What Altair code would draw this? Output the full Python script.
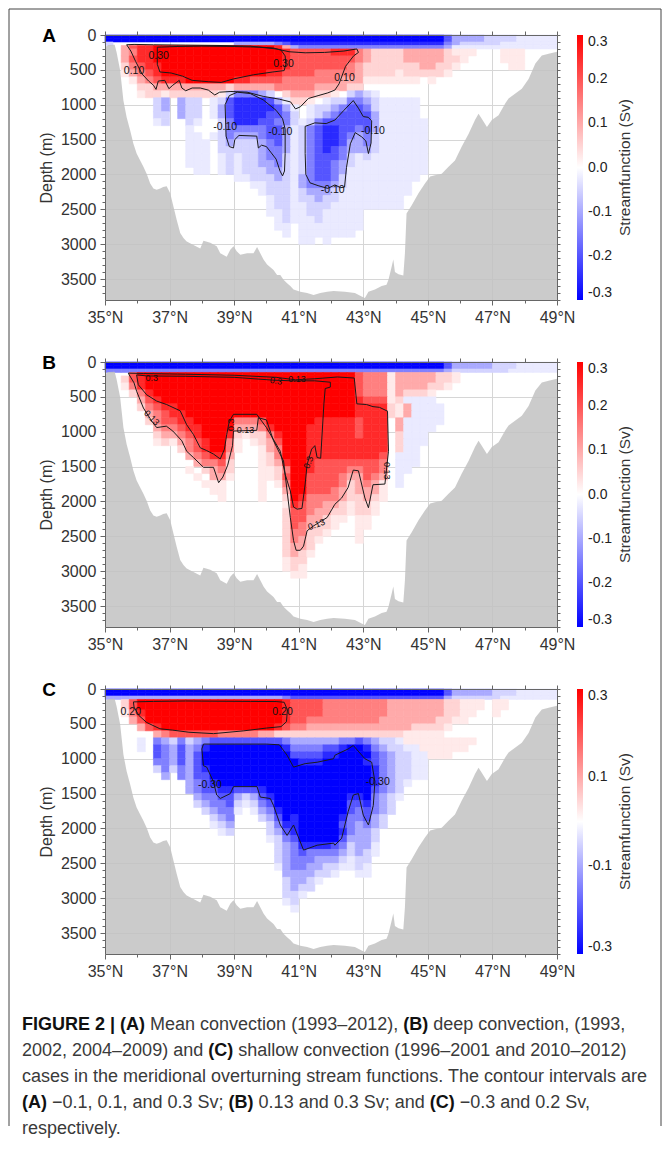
import altair as alt
import pandas as pd

FONT = "Liberation Sans"
W, H = 452, 265

LAT_EDGES = [35.0, 35.25, 35.5, 35.75, 36.0, 36.25, 36.5, 36.75, 37.0, 37.25, 37.5, 37.75,
             38.0, 38.25, 38.5, 38.75, 39.0, 39.25, 39.5, 39.75, 40.0, 40.25, 40.5, 40.75,
             41.0, 41.25, 41.5, 41.75, 42.0, 42.25, 42.5, 42.75, 43.0, 43.25, 43.5, 43.75,
             44.0, 44.25, 44.5, 44.75, 45.0, 45.25, 45.5, 45.75, 46.0, 46.25, 46.5, 46.75,
             47.0, 47.25, 47.5, 47.75, 48.0, 48.25, 48.5, 48.75, 49.0]
DEPTH_EDGES = [0, 50, 100, 150, 200, 300, 400, 500, 600, 700, 800, 900, 1000, 1100, 1200,
               1300, 1400, 1500, 1600, 1700, 1800, 1900, 2000, 2100, 2200, 2300, 2400, 2500,
               2600, 2700, 2800, 2900, 3000, 3100, 3200, 3300, 3400, 3500, 3600, 3700, 3800]

# one character per 0.25 deg x depth-row cell (Sv)
LEVELS = {'.': 0.0, '+': 0.025, 'a': 0.05, 'b': 0.1, 'c': 0.15, 'd': 0.2, 'e': 0.25, 'f': 0.3,
          '-': -0.025, 'A': -0.05, 'B': -0.1, 'C': -0.15, 'D': -0.2, 'E': -0.25, 'F': -0.3}
EMPTY = "........ ........ ........ ........ ........ ........ ........"

PSI_A = [
    "FFFFFFFF FFFFFFFF FFFFFFFF FFFFFFFF FFFFFFFF FFDBBBBA AAA-----",
    "FFFFFFFF FFFFFFFF FFFFFFFF FFFFFFFF FFFFFFFF FFDBBBBA AAA-----",
    "A....... ........ BBBBBCDE EEEEEEEE EEEEEEEE EECBAAAA A-------",
    "..bdeeff ffffffff fffffebB CCCCCCCC CCCCCCCC CCB----- --------",
    "..bceeff ffffffff ffffffed ddddeeec baaaabbb bba+++.. .+++....",
    "..bdeeff ffffffff ffffffed dddddddc baaaabbb bbaa+... .+++....",
    "..acdeef ffffffff ffffffed ddddddcb aaaaaaab baa+.... ..++....",
    "..+bcdef ffffffff ffffeedd ddcccccb aaaa+aaa aa+..... ........",
    "...+bcde eeffffff eeddddcc cccccbbb +++++++. +....... ........",
    "....aabb bbbbbbba bbbbbccc ccbbbbaa ........ ........ ........",
    "....+aa+ aaaaaa+A CCCBA.ab bbaa+.AB A-...... ........ ........",
    "......AB .BAA.-AD EEEEDB-a a+.-AACC BA-----. ........ ........",
    "......AB .BAA.-BD EEEEEDB- .-AABCDD CA-----. ........ ........",
    "......AA .BAA.-BD EEEEDDCA .-ABCDDD DB-----. ........ ........",
    "......-A ..A-..AC EEEDDCCA -ACDDDDD DB------ ........ ........",
    "........ ..-...AC CCCCDDB- ACDEEDDC DB------ ........ ........",
    "........ ..--.-AC BBBCDDB- ACDEEDCB CA------ ........ ........",
    "........ ..---.AB AAABCDB- ACDEEDBB CA------ ........ ........",
    "........ ..---.AA AAABCCB- ACDEDCBB BA------ ........ ........",
    "........ ..---.-A -AABCCA- ACDDDCA- A------- ........ ........",
    "........ ..---.-A -AABBCA- ACDDCBA- -------- ........ ........",
    "........ ...--.-A -AAABBA- ACDDCB-- -------- ........ ........",
    "........ ........ --AAABA- BCDDCA-- -------. ........ ........",
    "........ ........ ..--AAA- BCCCBA-- ------.. ........ ........",
    "........ ........ ...-AAA- ABBBA--- ------.. ........ ........",
    "........ ........ ....-AA- AABAA--- -----... ........ ........",
    "........ ........ ....-AA- -AAA---- -----... ........ ........",
    "........ ........ ....--A- -AA----- ........ ........ ........",
    "........ ........ .....-A- --A----- ........ ........ ........",
    "........ ........ .....--. -------- ........ ........ ........",
    "........ ........ ......-. -------. ........ ........ ........",
    "........ ........ ........ --.-.... ........ ........ ........",
] + [EMPTY] * 8

PSI_B = [
    "FFFFFFFF FFFFFFFF FFFFFFFF FFFFFFFF FFFFFFFF FFDBBBBB AAA-----",
    "FFFFFFFF FFFFFFFF FFFFFFFF FFFFFFFF FFFFFFFF FFDBBBBB AAA-----",
    "CCCCCCCC CCCCCCCC CCCCCCCC CCCCCCCC CCCCCCCC CCBAAAAA AA------",
    "...dffff ffffffff ffffffff fffffffd ccc+bbbb baa+.... ........",
    "..adefff ffffffff ffffffff fffffffd ccc+bbbb baa+.... ........",
    "..+cefff ffffffff ffffffff fffffffd ccc+bbbb aa+..... ........",
    "...aceff ffffffff ffffffff fffffffd ccc+baaa +....... ........",
    "....bdef ffffffff ffffffff fffffffe ddd+a--- -....... ........",
    "....acde efffffff ffffffff fffffffe eeea+b-- --...... ........",
    ".....bcd eeffffff ffffffff fffffffe eeea+b-- --...... ........",
    ".....acd deefffff cccdffff ffeeeeed eee.b--- --...... ........",
    "......bc cdeeffff bbbcefff feeeeeed eee.b--- -....... ........",
    "......ab bcdefffe a+aaceff feeeeeed eee.a--- ........ ........",
    "......+a +bcdeffc +.+abdff feeeeeee eee.a--- ........ ........",
    "........ .acdeffc +..+bcff feeeeeee eee.a--. ........ ........",
    "........ ..bcdeeb ...+acff feeeeeee eed.---. ........ ........",
    "........ ...bccda ...+abef fedddddd ddc.---. ........ ........",
    "........ ..+.abca ...++acf feddddcc ddc.--.. ........ ........",
    "........ ...+.bb+ ...++adf fddddcbb dcb.-... ........ ........",
    "........ ....+++. ...+.+cf fddddcab cb+.-... ........ ........",
    "........ .....++. ...+..bf fdddcbab bb+..... ........ ........",
    "........ ......+. ...+..af eccccbaa ba+..... ........ ........",
    "........ ........ ......+e dccbba+a a+...... ........ ........",
    "........ ........ ......ad dcbbaa+a a+...... ........ ........",
    "........ ........ ......ad dbba++.+ +....... ........ ........",
    "........ ........ ......ad cbaa+..+ +....... ........ ........",
    "........ ........ ......ac caa+...+ ........ ........ ........",
    "........ ........ ......ac ba+....+ ........ ........ ........",
    "........ ........ ......ab ba...... ........ ........ ........",
    "........ ........ ......ab a+...... ........ ........ ........",
    "........ ........ ......+a a....... ........ ........ ........",
    "........ ........ ......+a +....... ........ ........ ........",
    "........ ........ .......+ +....... ........ ........ ........",
] + [EMPTY] * 7

PSI_C = [
    "FFFFFFFF FFFFFFFF FFFFFFFF FFFFFFFF FFFFFFFF FFDBBBBB AAA-----",
    "FFFFFFFF FFFFFFFF FFFFFFFF FFFFFFFF FFFFFFFF FFDBBBBB AAA-----",
    "BBBBBBBB BBBBBBBB BBBBBBCD DDDDDDDD DDDDDDDD DDBAAAAA A-------",
    "..adffff ffffffff ffffffed dddccccc cccbbbbb bbaa+++. ++......",
    "..adffff ffffffff ffffffed dddccccc cccbbbbb bbaa+++. ++......",
    "..+cefff ffffffff ffffffed dddccccc cccbbbbb bbaa++.. +.......",
    "...bdfff ffffffff ffffffed dccccccc ccbbbbbb baa++... ........",
    "....bdef ffffffff fffffedc cbbbbbbb bbbbbbaa aa+..... ........",
    "......bc ddddddcc cccbbaaa aaaaaaaa aaaaa+++ ++...... ........",
    "....-.CB ACABCDDD DDDDDDCB BBBBBCCD CBAA-+++ ++++++.. ........",
    "....-.DC BDBCEFFF FFFFFFEC CCCDDEFF ECBAA--+ +++++... ........",
    "......DC BDBDFFFF FFFFFFFD DDDEEFFF FDCBAA-- +++..... ........",
    "......CC BDBDFFFF FFFFFFFF EEEFFFFF EDCBAA-- ........ ........",
    "......AC ACBDEFFF FFFFFFFF FFFFFFFF FECBAA-- ........ ........",
    ".......B .CBDDFFF FFFFFFFF FFFFFFFF FECBAA-- ........ ........",
    "........ ..BCDEFF FFFFFFFF FFFFFFFF FECBA-.. ........ ........",
    "........ ..BCDDEE DDDEFFFF FFFFFFFF FDCBA... ........ ........",
    "........ ...BCCDD BABDEFFF FFFFFFEE FCBA-... ........ ........",
    "........ ...ABCCD A-ACDFFF FFFFFFDD ECBA.... ........ ........",
    "........ ....ABCC -.-BCEFF FFFFFFDC DCBA.... ........ ........",
    "........ .....ABC ...ABDFE FFFFFECC DBA..... ........ ........",
    "........ .....-AB ....ACEE FFFFFDCB CBA..... ........ ........",
    "........ ......-A ....ABDE FFFFFECB BA...... ........ ........",
    "........ ........ ....-ACD FFFFFDBB BA...... ........ ........",
    "........ ........ .....ABC EEEEDCAB B-...... ........ ........",
    "........ ........ .....ABC DCCCCBAB A-...... ........ ........",
    "........ ........ .....ABC CCBBBA-A A....... ........ ........",
    "........ ........ .....-BC CBBAA--A -....... ........ ........",
    "........ ........ ......BB BBAA-..- -....... ........ ........",
    "........ ........ ......AB BA-..... ........ ........ ........",
    "........ ........ ......AB AA...... ........ ........ ........",
    "........ ........ ......AA -....... ........ ........ ........",
    "........ ........ ......-A ........ ........ ........ ........",
    "........ ........ .......- ........ ........ ........ ........",
] + [EMPTY] * 6

BATHY_LAT = [35.0, 35.1, 35.3, 35.36, 35.47, 35.57, 35.67, 35.78, 35.88, 35.98, 36.09, 36.19, 36.29,
             36.4, 36.5, 36.6, 36.71, 36.8, 36.91, 37.02, 37.12, 37.22, 37.33, 37.43, 37.53, 37.74,
             37.95, 38.05, 38.26, 38.46, 38.57, 38.77, 38.88, 38.98, 39.08, 39.19, 39.4, 39.6, 39.71,
             39.81, 39.91, 40.02, 40.22, 40.33, 40.43, 40.53, 40.64, 40.74, 40.84, 41.05, 41.26, 41.46,
             41.67, 41.88, 42.08, 42.43, 42.74, 42.95, 43.05, 43.16, 43.36, 43.57, 43.72, 43.78, 43.88,
             43.93, 43.98, 44.09, 44.24, 44.29, 44.34, 44.5, 44.71, 44.91, 45.07, 45.22, 45.43, 45.64,
             45.84, 46.05, 46.26, 46.46, 46.57, 46.67, 46.83, 46.98, 47.19, 47.4, 47.5, 47.71, 47.91,
             48.12, 48.33, 48.53, 48.74, 49.0]
BATHY_DEPTH = [175, 145, 140, 250, 510, 940, 1180, 1370, 1560, 1700, 1800, 1890, 1990, 2130, 2200,
               2220, 2200, 2180, 2170, 2270, 2460, 2650, 2840, 2910, 2960, 3010, 3060, 2950, 2980,
               3030, 3130, 3180, 3080, 3030, 3100, 3150, 3130, 3130, 3040, 3130, 3220, 3290, 3370,
               3440, 3440, 3510, 3560, 3600, 3650, 3680, 3700, 3730, 3700, 3680, 3670, 3680, 3700,
               3750, 3770, 3680, 3650, 3600, 3580, 3510, 3320, 3220, 3400, 3430, 3450, 3130, 2560,
               2440, 2270, 2130, 2030, 2010, 1990, 1890, 1800, 1600, 1420, 1220, 1130, 1200, 1320,
               1220, 1150, 980, 910, 840, 770, 630, 410, 295, 270, 240]

# contour lines (lat, depth)
CONT_A = {
    "a030": [(36.62, 175), (37.2, 165), (38.0, 160), (39.0, 165), (39.8, 175), (40.2, 185), (40.45, 215),
             (40.58, 300), (40.6, 420), (40.55, 510), (40.2, 530), (39.6, 570), (38.98, 630), (38.6, 680),
             (38.2, 670), (37.7, 650), (37.4, 590), (37.05, 545), (36.7, 530), (36.62, 420), (36.62, 175)],
    "a010": [(35.67, 140), (35.8, 230), (35.95, 380), (36.15, 560), (36.35, 660), (36.5, 720), (36.58, 780),
             (36.65, 660), (36.85, 650), (36.98, 770), (37.1, 720), (37.3, 650), (37.38, 760), (37.5, 800),
             (37.7, 760), (37.95, 760), (38.2, 790), (38.4, 860), (38.55, 820), (38.9, 810), (39.4, 820),
             (39.9, 880), (40.4, 920), (40.75, 960), (40.9, 1060), (41.05, 1030), (41.3, 910), (41.6, 870),
             (41.9, 830), (42.12, 790), (42.25, 700), (42.45, 450), (42.7, 300), (42.85, 250), (42.8, 200),
             (42.4, 230), (41.8, 250), (41.2, 255), (40.7, 240), (40.3, 200), (39.5, 160), (38.5, 150),
             (37.5, 145), (36.5, 140), (35.9, 135), (35.67, 140)],
    "am010a": [(38.72, 1000), (38.85, 870), (39.1, 820), (39.5, 840), (39.9, 930), (40.3, 1080), (40.5, 1200),
               (40.58, 1350), (40.58, 1700), (40.56, 1950), (40.5, 2020), (40.42, 1950), (40.3, 1780),
               (40.15, 1690), (40.0, 1600), (39.85, 1580), (39.75, 1620), (39.7, 1450), (39.15, 1440),
               (39.02, 1500), (38.98, 1620), (38.85, 1600), (38.75, 1450), (38.72, 1000)],
    "am010b": [(41.2, 1310), (41.5, 1260), (41.85, 1270), (42.12, 1220), (42.4, 1080), (42.69, 940),
               (42.85, 1050), (43.0, 1170), (43.15, 1180), (43.26, 1230), (43.24, 1550), (43.16, 1700),
               (43.08, 1520), (42.95, 1460), (42.75, 1400), (42.6, 1560), (42.48, 1900), (42.42, 2180),
               (42.3, 2190), (42.12, 2150), (41.9, 2200), (41.6, 2160), (41.35, 2120), (41.22, 2000),
               (41.2, 1700), (41.2, 1310)],
}
CONT_B = {
    "b013": [(35.72, 160), (35.9, 300), (35.98, 420), (36.19, 660), (36.45, 850), (36.6, 940), (36.9, 920),
             (37.1, 990), (37.38, 1130), (37.53, 1280), (37.74, 1370), (38.05, 1510), (38.36, 1510),
             (38.52, 1730), (38.65, 1650), (38.8, 1480), (38.95, 1200), (38.98, 990), (39.7, 980),
             (39.75, 800), (40.0, 830), (40.22, 1130), (40.53, 1420), (40.64, 1850), (40.74, 2230),
             (40.84, 2560), (40.92, 2700), (41.05, 2700), (41.15, 2640), (41.26, 2420), (41.46, 2350),
             (41.88, 2230), (42.12, 2040), (42.33, 1950), (42.53, 1800), (42.69, 1550), (42.85, 1560),
             (43.05, 1950), (43.16, 2090), (43.3, 1760), (43.67, 1750), (43.78, 1280), (43.75, 705),
             (43.5, 650), (43.3, 640), (43.1, 610), (42.8, 600), (42.72, 230), (42.2, 215), (41.5, 240),
             (40.9, 255), (40.3, 220), (39.0, 190), (37.5, 175), (36.2, 165), (35.72, 160)],
    "b030": [(35.98, 185), (36.03, 325), (36.29, 470), (36.6, 560), (36.91, 610), (37.33, 700), (37.53, 900),
             (37.74, 1040), (37.95, 1230), (38.15, 1270), (38.36, 1320), (38.57, 1390), (38.7, 1250),
             (38.77, 1040), (38.85, 850), (38.98, 750), (39.7, 750), (40.0, 940), (40.43, 1280),
             (40.58, 1610), (40.74, 1850), (40.84, 2080), (40.95, 2110), (41.1, 2100), (41.2, 1750),
             (41.26, 1470), (41.4, 1250), (41.5, 1200), (41.57, 1370), (41.68, 1380), (41.78, 600),
             (41.82, 380), (41.98, 360), (41.98, 290), (41.5, 270), (40.8, 270), (40.2, 260), (39.0, 220),
             (37.5, 205), (36.3, 200), (35.98, 185)],
}
CONT_C = {
    "c020": [(35.88, 185), (36.5, 178), (37.5, 172), (38.5, 175), (39.5, 178), (40.3, 180), (40.55, 190),
             (40.65, 300), (40.62, 470), (40.45, 540), (40.0, 560), (39.3, 600), (38.36, 640), (37.6, 620),
             (37.1, 590), (36.7, 570), (36.29, 480), (36.05, 380), (35.9, 260), (35.88, 185)],
    "cm030": [(38.0, 860), (38.05, 790), (39.0, 790), (40.0, 790), (40.4, 800), (40.64, 950), (40.84, 1120),
              (41.2, 1070), (41.57, 1050), (42.08, 1000), (42.12, 950), (42.53, 860), (42.69, 810),
              (43.05, 1000), (43.26, 1050), (43.36, 1330), (43.31, 1670), (43.16, 1950), (43.0, 1810),
              (42.85, 1500), (42.69, 1520), (42.53, 1760), (42.33, 2140), (42.12, 2240), (42.08, 2210),
              (41.57, 2240), (41.15, 2310), (40.84, 1950), (40.64, 2100), (40.43, 1950), (40.22, 1670),
              (40.12, 1570), (39.81, 1550), (39.71, 1400), (38.98, 1400), (38.88, 1500), (38.57, 1570),
              (38.46, 1520), (38.36, 1330), (38.15, 1120), (38.05, 1100), (38.0, 860)],
}

# contour labels: text, lat, depth, angle
LAB_A = [("0.30", 36.66, 295, 0), ("0.30", 40.53, 415, 0), ("0.10", 35.9, 520, 0), ("0.10", 42.42, 615, 0),
         ("-0.10", 38.72, 1320, 0), ("-0.10", 40.43, 1390, 0), ("-0.10", 42.05, 2220, 0),
         ("-0.10", 43.3, 1370, 0)]
LAB_B = [("0.3", 36.45, 235, 0), ("0.3", 40.3, 270, 10), ("0.13", 40.95, 245, 0), ("0.13", 36.45, 800, 45),
         ("0.3", 38.9, 900, 270), ("0.13", 39.35, 975, 0), ("0.3", 41.3, 1440, 290),
         ("0.13", 41.55, 2330, 340), ("0.13", 43.72, 1560, 90)]
LAB_C = [("0.20", 35.8, 333, 0), ("0.20", 40.5, 333, 0), ("-0.30", 38.25, 1380, 0), ("-0.30", 43.45, 1333, 0)]

LEG_AB = [0.3, 0.2, 0.1, 0.0, -0.1, -0.2, -0.3]
LEG_C = [0.3, 0.1, -0.1, -0.3]

X_MAJOR = [35, 37, 39, 41, 43, 45, 47, 49]
X_MINOR = [36, 38, 40, 42, 44, 46, 48]
X_ALL = list(range(35, 50))
Y_MAJOR = [0, 500, 1000, 1500, 2000, 2500, 3000, 3500]
Y_MINOR = [d for d in range(100, 3800, 100) if d % 500]
Y_ALL = list(range(0, 3900, 100))

# caption: lines of (text, bold) segments
CAPTION = [
    [("FIGURE 2 | (A)", True), ("Mean convection (1993\u20132012),", False), ("(B)", True),
     ("deep convection, (1993,", False)],
    [("2002, 2004\u20132009) and", False), ("(C)", True),
     ("shallow convection (1996\u20132001 and 2010\u20132012)", False)],
    [("cases in the meridional overturning stream functions. The contour intervals are", False)],
    [("(A)", True), ("\u22120.1, 0.1, and 0.3 Sv;", False), ("(B)", True), ("0.13 and 0.3 Sv; and", False),
     ("(C)", True), ("\u22120.3 and 0.2 Sv,", False)],
    [("respectively.", False)],
]

# Arial/Liberation Sans advance widths (1/1000 em) for caption layout
_REG = {' ': 278, '(': 333, ')': 333, ',': 278, '.': 278, ';': 278, '|': 260, '\u2013': 556, '\u2212': 584,
        'A': 667, 'B': 667, 'C': 722, 'D': 722, 'E': 667, 'F': 611, 'G': 778, 'I': 278, 'M': 833,
        'R': 722, 'S': 667, 'T': 611, 'U': 722, 'V': 667,
        'a': 556, 'b': 556, 'c': 500, 'd': 556, 'e': 556, 'f': 278, 'g': 556, 'h': 556, 'i': 222,
        'j': 222, 'k': 500, 'l': 222, 'm': 833, 'n': 556, 'o': 556, 'p': 556, 'q': 556, 'r': 333,
        's': 500, 't': 278, 'u': 556, 'v': 500, 'w': 722, 'x': 500, 'y': 500, 'z': 500}
_BOLD = {' ': 278, '(': 333, ')': 333, '|': 280, 'A': 722, 'B': 722, 'C': 722, 'E': 667, 'F': 611,
         'G': 778, 'I': 278, 'R': 722, 'U': 722}
CAP_SIZE = 18.0
CAP_LEFT = 22 - 105
CAP_TOP = 9
CAP_STEP = 26


def text_w(s, bold):
    tbl = _BOLD if bold else _REG
    return sum(tbl.get(ch, 556) for ch in s) / 1000.0 * CAP_SIZE


def caption_df():
    recs = []
    for li, segs in enumerate(CAPTION):
        x = CAP_LEFT
        for t, b in segs:
            recs.append(dict(t=t, bold=b, px=x, py=CAP_TOP + CAP_STEP * li))
            x += text_w(t, b) + _REG[' '] / 1000.0 * CAP_SIZE
    return pd.DataFrame(recs)


CSCALE = dict(domain=[-0.3, 0, 0.3], range=["#0000ff", "#ffffff", "#ff0000"], clamp=True, interpolate="rgb")
AX = dict(tickColor="#666", domainColor="#666", labelFont=FONT, labelColor="#333", labelFontSize=16)


def heat_df(rows):
    recs = []
    for j, row in enumerate(rows):
        s = (row.replace(" ", "") + "." * 56)[:56]
        for i, ch in enumerate(s):
            v = LEVELS.get(ch, 0.0)
            if v == 0:
                continue
            recs.append(dict(lat0=LAT_EDGES[i], lat1=LAT_EDGES[i + 1], d0=DEPTH_EDGES[j],
                             d1=DEPTH_EDGES[j + 1], v=v))
    return pd.DataFrame(recs)


def cont_df(conts):
    recs = []
    for cid, pts in conts.items():
        for k, (la, de) in enumerate(pts):
            recs.append(dict(cid=cid, idx=k, lat=la, depth=de))
    return pd.DataFrame(recs)


def panel(letter, rows, conts, labs, leg_values, lab_size):
    xs = alt.Scale(domain=[35, 49], nice=False, zero=False)
    ys = alt.Scale(domain=[0, 3800], reverse=True, nice=False, zero=False)
    cs = alt.Scale(**CSCALE)
    # grid-only axes, drawn beneath the marks
    ax_gx = alt.Axis(orient="bottom", values=X_MAJOR, labels=False, ticks=False, domain=False, grid=True,
                     gridColor="#d6d6d6", title=None, zindex=0)
    ax_gy = alt.Axis(orient="left", values=Y_MAJOR, labels=False, ticks=False, domain=False, grid=True,
                     gridColor="#d6d6d6", title=None, zindex=0)
    # labelled axes, drawn above the marks
    ax_b = alt.Axis(orient="bottom", values=X_MAJOR, labelExpr="datum.value + '\u00b0N'", tickSize=5,
                    labelPadding=4, labelFlush=False, labelOverlap=False, grid=False, title=None,
                    zindex=1, **AX)
    ax_l = alt.Axis(orient="left", values=Y_MAJOR, format="d", tickSize=5, labelPadding=4,
                    labelOverlap=False, grid=False, title="Depth (m)", titleFont=FONT, titleFontSize=16,
                    titleFontWeight="normal", titleColor="#333", titlePadding=6, zindex=1, **AX)
    ax_bm = alt.Axis(orient="bottom", values=X_MINOR, labels=False, tickSize=3, domain=False, grid=False,
                     title=None, tickColor="#666", zindex=1)
    ax_lm = alt.Axis(orient="left", values=Y_MINOR, labels=False, tickSize=3, domain=False, grid=False,
                     title=None, tickColor="#666", zindex=1)
    ax_t = alt.Axis(orient="top", values=X_ALL, labels=False, tickSize=4, grid=False, title=None,
                    tickColor="#666", domainColor="#666", zindex=1)
    ax_r = alt.Axis(orient="right", values=Y_ALL, labels=False, tickSize=3, grid=False, title=None,
                    tickColor="#666", domainColor="#666", zindex=1)

    heat = alt.Chart(heat_df(rows)).mark_rect(strokeWidth=0.6).encode(
        x=alt.X("lat0:Q", scale=xs, axis=ax_gx),
        x2="lat1:Q",
        y=alt.Y("d0:Q", scale=ys, axis=ax_gy),
        y2="d1:Q",
        color=alt.Color("v:Q", scale=cs, legend=alt.Legend(
            orient="none", legendX=472, legendY=0, direction="vertical", gradientLength=H,
            gradientThickness=6, gradientStrokeWidth=0, title=None, values=leg_values,
            labelExpr="replace(format(datum.value, '.1f'), '\u2212', '-')", labelFont=FONT,
            labelFontSize=14, labelColor="#222", labelOffset=5, labelOverlap=False, padding=0)),
        stroke=alt.Stroke("v:Q", scale=cs, legend=None),
    )
    bdf = pd.DataFrame({"lat": BATHY_LAT, "depth": BATHY_DEPTH})
    bdf["bottom"] = 3800
    bathy = alt.Chart(bdf).mark_area(color="#c2c2c2", fillOpacity=0.86).encode(
        x=alt.X("lat:Q", scale=xs, axis=ax_b),
        y=alt.Y("depth:Q", scale=ys, axis=ax_l),
        y2="bottom:Q",
    )
    lines = alt.Chart(cont_df(conts)).mark_line(color="#1a1a1a", strokeWidth=1).encode(
        x=alt.X("lat:Q", scale=xs, axis=ax_bm),
        y=alt.Y("depth:Q", scale=ys, axis=ax_lm),
        detail="cid:N",
        order="idx:Q",
    )
    ldf = pd.DataFrame(labs, columns=["t", "lat", "depth", "ang"])
    labels = alt.Chart(ldf).mark_text(font=FONT, fontSize=lab_size, color="#111").encode(
        x=alt.X("lat:Q", scale=xs, axis=ax_t),
        y=alt.Y("depth:Q", scale=ys, axis=ax_r),
        text="t:N",
        angle=alt.Angle("ang:Q", scale=None),
    )
    meta = pd.DataFrame({"letter": [letter], "ttl": ["Streamfunction (Sv)"]})
    let = alt.Chart(meta).mark_text(font=FONT, fontSize=19, fontWeight="bold", color="#000").encode(
        x=alt.value(-56), y=alt.value(1), text="letter:N")
    ttl = alt.Chart(meta).mark_text(font=FONT, fontSize=15.5, angle=270, color="#333").encode(
        x=alt.value(520), y=alt.value(H / 2), text="ttl:N")
    return alt.layer(heat, bathy, lines, labels, let, ttl).resolve_axis(
        x="independent", y="independent").properties(width=W, height=H)


pA = panel("A", PSI_A, CONT_A, LAB_A, LEG_AB, 10.5)
pB = panel("B", PSI_B, CONT_B, LAB_B, LEG_AB, 9)
pC = panel("C", PSI_C, CONT_C, LAB_C, LEG_C, 10.5)

cbase = alt.Chart(caption_df()).encode(x=alt.X("px:Q", scale=None, axis=None),
                                       y=alt.Y("py:Q", scale=None, axis=None), text="t:N")
cnorm = cbase.transform_filter("!datum.bold").mark_text(
    align="left", baseline="middle", font=FONT, fontSize=CAP_SIZE, color="#3a3a3a")
cbold = cbase.transform_filter("datum.bold").mark_text(
    align="left", baseline="middle", font=FONT, fontSize=CAP_SIZE, fontWeight="bold", color="#111")
one = pd.DataFrame({"k": [0]})
fl = alt.Chart(one).mark_rule(color="#444", strokeWidth=1).encode(
    x=alt.value(-96), y=alt.value(-1007), y2=alt.value(110))
fr = alt.Chart(one).mark_rule(color="#444", strokeWidth=1).encode(
    x=alt.value(556), y=alt.value(-1007), y2=alt.value(110))
ft = alt.Chart(one).mark_rule(color="#444", strokeWidth=1).encode(
    x=alt.value(-96), x2=alt.value(556), y=alt.value(-1007))
caption = alt.layer(fl, fr, ft, cnorm, cbold).properties(width=W, height=100)

chart = alt.vconcat(pA, pB, pC, caption, spacing=62, bounds="flush").resolve_scale(
    color="independent", x="independent", y="independent"
).properties(
    padding={"left": 0, "top": 0, "right": 0, "bottom": 0}
).configure(font=FONT, view=alt.ViewConfig(stroke=None))

chart.save("out.html", embed_options={"renderer": "svg", "actions": False})
